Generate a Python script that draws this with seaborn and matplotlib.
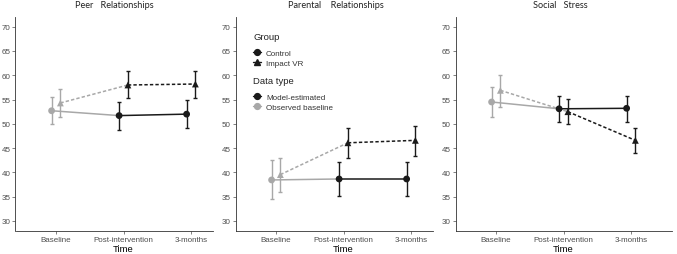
import numpy as np
import pandas as pd
import matplotlib
matplotlib.use("Agg")
import matplotlib.pyplot as plt
from matplotlib.lines import Line2D
import seaborn as sns

# ---------------- data ----------------
times = ["Baseline", "Post-intervention", "3-months"]
panel_titles = ["Peer   Relationships", "Parental    Relationships", "Social   Stress"]
groups = ["Control", "Impact VR"]

peer_control = [52.7, 51.7, 52.0]
peer_control_lo = [49.9, 48.8, 49.1]
peer_control_hi = [55.6, 54.6, 55.0]
peer_vr = [54.3, 58.0, 58.2]
peer_vr_lo = [51.5, 55.3, 55.4]
peer_vr_hi = [57.1, 60.8, 60.9]

parental_control = [38.45, 38.65, 38.65]
parental_control_lo = [34.5, 35.2, 35.2]
parental_control_hi = [42.5, 42.1, 42.1]
parental_vr = [39.55, 46.1, 46.6]
parental_vr_lo = [36.0, 42.9, 43.3]
parental_vr_hi = [42.9, 49.2, 49.6]

social_control = [54.5, 53.1, 53.2]
social_control_lo = [51.4, 50.3, 50.3]
social_control_hi = [57.6, 55.8, 55.8]
social_vr = [56.9, 52.5, 46.6]
social_vr_lo = [53.4, 49.9, 44.0]
social_vr_hi = [60.1, 55.1, 49.1]

data_types = ["Observed baseline", "Model-estimated", "Model-estimated"]
y_ticks = [30, 35, 40, 45, 50, 55, 60, 65, 70]

panel_data = [
    (peer_control, peer_control_lo, peer_control_hi, peer_vr, peer_vr_lo, peer_vr_hi),
    (parental_control, parental_control_lo, parental_control_hi, parental_vr, parental_vr_lo, parental_vr_hi),
    (social_control, social_control_lo, social_control_hi, social_vr, social_vr_lo, social_vr_hi),
]

# ---------------- style ----------------
sns.set_theme(style="ticks")
plt.rcParams["font.family"] = ["Liberation Sans", "DejaVu Sans"]

BLACK = "#1a1a1a"
GRAY = "#a8a8a8"
TICK_COL = "#4d4d4d"
type_colors = {"Observed baseline": GRAY, "Model-estimated": BLACK}
group_markers = {"Control": "o", "Impact VR": "^"}
group_ls = {"Control": "-", "Impact VR": (0, (2.2, 1.4))}
dodge = {"Control": -0.065, "Impact VR": 0.065}

W, H = 677, 255
fig = plt.figure(figsize=(W / 100, H / 100), dpi=100)

ax_left_px = [15.5, 235.5, 455.5]
ax_w_px = 216
ax_top_px, ax_bot_px = 18, 231.7

for k, (title, vals) in enumerate(zip(panel_titles, panel_data)):
    c, clo, chi, v, vlo, vhi = vals
    rows = []
    for g, m, lo, hi in [("Control", c, clo, chi), ("Impact VR", v, vlo, vhi)]:
        for i, t in enumerate(times):
            rows.append(dict(time=t, pos=i + dodge[g], group=g, mean=m[i],
                             lo=lo[i], hi=hi[i], dtype=data_types[i]))
    df = pd.DataFrame(rows)

    ax = fig.add_axes([ax_left_px[k] / W, 1 - ax_bot_px / H,
                       ax_w_px / W, (ax_bot_px - ax_top_px) / H])

    # connecting lines: baseline->post in grey (observed), post->3mo in black
    for g in groups:
        sub = df[df.group == g].reset_index(drop=True)
        seg1 = sub.iloc[0:2]
        seg2 = sub.iloc[1:3]
        sns.lineplot(data=seg1, x="pos", y="mean", ax=ax, color=GRAY,
                     linewidth=1.1, linestyle=group_ls[g], legend=False,
                     sort=False, estimator=None, zorder=2)
        sns.lineplot(data=seg2, x="pos", y="mean", ax=ax, color=BLACK,
                     linewidth=1.1, linestyle=group_ls[g], legend=False,
                     sort=False, estimator=None, zorder=2)

    # error bars
    for _, r in df.iterrows():
        ax.errorbar(r["pos"], r["mean"],
                    yerr=[[r["mean"] - r["lo"]], [r["hi"] - r["mean"]]],
                    fmt="none", ecolor=type_colors[r["dtype"]],
                    elinewidth=1.0, capsize=1.5, capthick=1.0, zorder=3)

    # points
    sns.scatterplot(data=df, x="pos", y="mean", hue="dtype", style="group",
                    palette=type_colors, markers=group_markers, s=24,
                    linewidth=0, ax=ax, legend=False, zorder=4)

    ax.set_xlim(-0.6, 2.6)
    ax.set_ylim(28, 72)
    ax.set_xticks(range(len(times)))
    ax.set_xticklabels(times)
    ax.set_yticks(y_ticks)
    ax.set_xlabel("Time", fontsize=6.8, color="black", labelpad=0.8)
    ax.set_ylabel("")
    ax.tick_params(axis="both", labelsize=5.8, colors=TICK_COL, length=2.2,
                   width=0.5, pad=1.4)
    for s in ["top", "right"]:
        ax.spines[s].set_visible(False)
    for s in ["left", "bottom"]:
        ax.spines[s].set_linewidth(0.6)
        ax.spines[s].set_color("#333333")
    if k < 2:
        ax.spines["bottom"].set_bounds(-0.6, 2.32)

    title_x = [114, 336, 560][k]
    fig.text(title_x / W, 1 - 5 / H, title, ha="center", va="center",
             fontsize=6.6, color="#222222", family=["Lato", "DejaVu Sans"])

    if k == 1:
        h_group = [Line2D([], [], color=BLACK, marker=group_markers[g], markersize=4.2,
                          linewidth=1.0, linestyle="-") for g in groups]
        h_type = [Line2D([], [], color=type_colors[t], marker="o", markersize=4.2,
                         linewidth=1.0, linestyle="-")
                  for t in ["Model-estimated", "Observed baseline"]]
        common = dict(frameon=False, handlelength=1.0, handletextpad=0.6,
                      labelspacing=0.3, fontsize=5.8, title_fontsize=6.8,
                      borderpad=0, borderaxespad=0, alignment="left")
        leg1 = fig.legend(h_group, groups, title="Group", loc="upper left",
                          bbox_to_anchor=(253 / W, 1 - 33 / H), **common)
        leg2 = fig.legend(h_type, ["Model-estimated", "Observed baseline"],
                          title="Data type", loc="upper left",
                          bbox_to_anchor=(253 / W, 1 - 77 / H), **common)
        for lg in (leg1, leg2):
            lg.get_title().set_color("#222222")
            lg._legend_box.sep = 6
            for t in lg.get_texts():
                t.set_color("#333333")

fig.savefig("out.png", dpi=100)
